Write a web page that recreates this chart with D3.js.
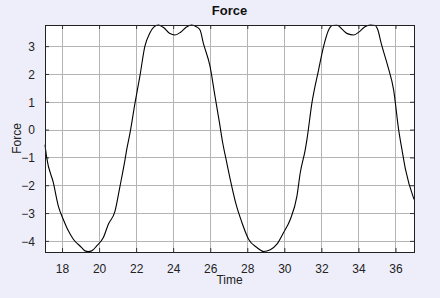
<!DOCTYPE html>
<html>
<head>
<meta charset="utf-8">
<script src="https://cdn.jsdelivr.net/npm/d3@7"></script>
<style>
  body { margin: 0; background: #eeeefa; }
  svg { display: block; font-family: "Liberation Sans", Arial, sans-serif; }
  .grid line { stroke: #b4b4b4; stroke-width: 1; }
  .tick text { font-size: 12px; fill: #222; }
</style>
</head>
<body>
<script>
// Data
const time = [17.08, 17.17, 17.53, 17.8, 18.07, 18.34, 18.61, 19.06, 19.24, 19.42, 19.6, 19.87,
  20.23, 20.5, 20.86, 21.13, 21.4, 21.49, 21.67, 21.94, 22.2, 22.47, 22.74, 22.95, 23.2, 23.5,
  23.8, 24.1, 24.4, 24.7, 25.0, 25.25, 25.45, 25.63, 25.99, 26.26, 26.5, 26.68, 26.85, 27.1,
  27.4, 27.71, 28.07, 28.52, 28.88, 29.24, 29.6, 29.96, 30.32, 30.68, 30.86, 31.13, 31.22,
  31.49, 31.85, 32.12, 32.39, 32.6, 32.85, 33.1, 33.4, 33.75, 34.05, 34.35, 34.65, 34.9,
  35.05, 35.23, 35.59, 35.9, 36.17, 36.35, 36.54, 37.0];
const force = [-0.54, -1.0, -1.91, -2.75, -3.23, -3.64, -3.94, -4.24, -4.36, -4.38, -4.36, -4.18,
  -3.88, -3.4, -2.93, -2.03, -1.08, -0.72, -0.12, 0.96, 1.91, 2.99, 3.47, 3.68, 3.76, 3.66,
  3.46, 3.4, 3.5, 3.68, 3.76, 3.7, 3.58, 3.1, 2.27, 1.19, 0.24, -0.5, -1.05, -1.85,
  -2.7, -3.34, -3.94, -4.24, -4.38, -4.32, -4.12, -3.7, -3.23, -2.39, -1.55, -0.72, -0.36,
  0.96, 2.15, 2.99, 3.58, 3.74, 3.75, 3.62, 3.45, 3.4, 3.52, 3.7, 3.76, 3.74,
  3.58, 3.1, 2.27, 1.43, 0.0, -0.72, -1.43, -2.51];
const xTicks = [18, 20, 22, 24, 26, 28, 30, 32, 34, 36];
const yTicks = [-4, -3, -2, -1, 0, 1, 2, 3];

const W = 440, H = 298;
const margin = {top: 25, right: 26, bottom: 46, left: 45};
const iw = W - margin.left - margin.right,
    ih = H - margin.top - margin.bottom;

const svg = d3.select('body').append('svg')
    .attr('width', W)
    .attr('height', H);

const x = d3.scaleLinear().domain([17.08, 37.0]).range([0, iw]);
const y = d3.scaleLinear().domain([-4.4, 3.76]).range([ih, 0]);

const g = svg.append('g')
    .attr('transform', 'translate(' + margin.left + ',' + margin.top + ')');

g.append('rect')
    .attr('width', iw)
    .attr('height', ih)
    .attr('fill', '#ffffff');

// grid lines
const grid = g.append('g').attr('class', 'grid');
grid.selectAll('.gx').data(xTicks).enter().append('line')
    .attr('x1', d => Math.round(x(d)) + 0.5).attr('x2', d => Math.round(x(d)) + 0.5)
    .attr('y1', 0).attr('y2', ih);
grid.selectAll('.gy').data(yTicks).enter().append('line')
    .attr('y1', d => Math.round(y(d)) + 0.5).attr('y2', d => Math.round(y(d)) + 0.5)
    .attr('x1', 0).attr('x2', iw);

// axes with inward ticks
const xAxis = g.append('g')
    .attr('transform', 'translate(0,' + ih + ')')
    .call(d3.axisBottom(x).tickValues(xTicks).tickSize(-4).tickPadding(12));
const yAxis = g.append('g')
    .call(d3.axisLeft(y).tickValues(yTicks).tickSize(-4).tickPadding(10));
g.append('g')
    .attr('transform', 'translate(' + iw + ',0)')
    .call(d3.axisRight(y).tickValues(yTicks).tickSize(-4).tickFormat(''));
g.append('g')
    .call(d3.axisTop(x).tickValues(xTicks).tickSize(-4).tickFormat(''));

g.selectAll('.domain').remove();
g.selectAll('.tick line').attr('stroke', '#333');
xAxis.selectAll('text').attr('font-family', null);
yAxis.selectAll('text').attr('font-family', null).attr('dy', '0.36em');

// the curve
const line = d3.line()
    .x((d, i) => x(time[i]))
    .y(d => y(d))
    .curve(d3.curveMonotoneX);

g.append('path')
    .datum(force)
    .attr('fill', 'none')
    .attr('stroke', '#000')
    .attr('stroke-width', 1.1)
    .attr('d', line);

// frame
g.append('rect')
    .attr('x', 0.5).attr('y', 0.5)
    .attr('width', iw).attr('height', ih)
    .attr('fill', 'none')
    .attr('stroke', '#222');

// titles
svg.append('text')
    .attr('x', margin.left + iw / 2)
    .attr('y', 15)
    .attr('text-anchor', 'middle')
    .attr('font-size', 13)
    .attr('font-weight', 'bold')
    .attr('fill', '#111')
    .text('Force');

svg.append('text')
    .attr('x', margin.left + iw / 2)
    .attr('y', 284)
    .attr('text-anchor', 'middle')
    .attr('font-size', 12)
    .attr('fill', '#222')
    .text('Time');

svg.append('text')
    .attr('transform', 'translate(21,' + (margin.top + ih / 2) + ') rotate(-90)')
    .attr('text-anchor', 'middle')
    .attr('font-size', 12)
    .attr('fill', '#222')
    .text('Force');
</script>
</body>
</html>
